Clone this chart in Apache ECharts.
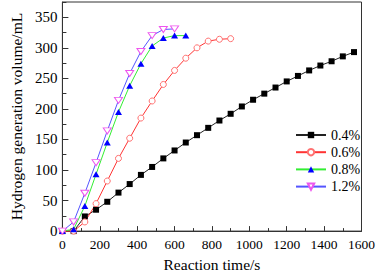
<!DOCTYPE html>
<html>
<head>
<meta charset="utf-8">
<script src="https://cdn.jsdelivr.net/npm/echarts@6/dist/echarts.min.js"></script>
<style>html,body{margin:0;padding:0;background:#fff}#c{width:378px;height:277px}</style>
</head>
<body>
<div id="c"></div>
<script>
// Data
const seriesNames = ['0.4%', '0.6%', '0.8%', '1.2%'];
const time04 = [0,60,120,180,240,300,360,420,480,540,600,660,720,780,840,900,960,1020,1080,1140,1200,1260,1320,1380,1440,1500,1560];
const vol04  = [0,0,24,35,48,63,77,92,105,119,132,145,157,169,181,192,204,215,225,235,245,254,263,271,278,286,293];
const time06 = [0,60,120,180,240,300,360,420,480,540,600,660,720,780,840,900];
const vol06  = [0,0,15,45,82,119,152,185,213,240,263,283,300,311,314,315];
const time08 = [0,60,120,180,240,300,360,420,480,540,600,660];
const vol08  = [0,3,41,93,145,195,238,274,303,316,320,320];
const time12 = [0,60,120,180,240,300,360,420,480,540,600];
const vol12  = [0,15,62,112,164,214,258,294,320,330,331];
const xTicks = [0,200,400,600,800,1000,1200,1400,1600];
const yTicks = [0,50,100,150,200,250,300,350];

const FONT = "'Liberation Serif','Times New Roman',serif";
function pairs(xs, ys){ return xs.map((x,i)=>[x, ys[i]]); }

const chart = echarts.init(document.getElementById('c'), null, {renderer:'svg'});
const axisColor = '#333';
chart.setOption({
  animation: false,
  backgroundColor: '#fff',
  grid: {left:46, right:15, top:2, bottom:38, show:true, borderColor:axisColor, borderWidth:1, backgroundColor:'transparent'},
  legend: {
    orient:'vertical', left:290, top:123, itemWidth:30, itemHeight:8, itemGap:3.2,
    textStyle:{fontFamily:FONT, fontSize:14, color:'#000'},
    data: seriesNames
  },
  xAxis: {
    type:'value', min:xTicks[0], max:xTicks[xTicks.length-1], interval:200,
    name:'Reaction time/s', nameLocation:'middle', nameGap:23,
    nameTextStyle:{fontFamily:FONT, fontSize:15.5, color:'#000'},
    axisLine:{show:true, lineStyle:{color:axisColor, width:1}},
    axisTick:{show:true, inside:true, length:5, lineStyle:{color:axisColor}},
    minorTick:{show:true, splitNumber:2, length:3, lineStyle:{color:axisColor}},
    axisLabel:{fontFamily:FONT, fontSize:13.5, color:'#000', margin:6, formatter: v => String(v)},
    splitLine:{show:false}
  },
  yAxis: [{
    type:'value', min:0, max:375, interval:50, position:'left',
    name:'Hydrogen generation volume/mL', nameLocation:'middle', nameGap:31,
    nameTextStyle:{fontFamily:FONT, fontSize:15.5, color:'#000'},
    axisLine:{show:true, lineStyle:{color:axisColor, width:1}},
    axisTick:{show:true, inside:true, length:6, lineStyle:{color:axisColor}},
    axisLabel:{fontFamily:FONT, fontSize:15, color:'#000', margin:5, showMaxLabel:false,
      formatter: v => yTicks.indexOf(v) >= 0 ? String(v) : ''},
    splitLine:{show:false}
  },{
    type:'value', min:0, max:375, interval:25, position:'left', offset:0,
    axisLine:{show:false},
    axisTick:{show:true, inside:true, length:4, lineStyle:{color:axisColor}},
    axisLabel:{show:false},
    splitLine:{show:false}
  }],
  series: [
    {name:seriesNames[0], type:'line', clip:false, data:pairs(time04, vol04),
     symbol:'rect', symbolSize:6,
     lineStyle:{color:'#222', width:1}, itemStyle:{color:'#000'}},
    {name:seriesNames[1], type:'line', clip:false, data:pairs(time06, vol06),
     symbol:'circle', symbolSize:6,
     lineStyle:{color:'#ff3333', width:1}, itemStyle:{color:'#fff', borderColor:'#ff7070', borderWidth:1}},
    {name:seriesNames[2], type:'line', clip:false, data:pairs(time08, vol08),
     symbol:'triangle', symbolSize:[7,6],
     lineStyle:{color:'#33ee33', width:1}, itemStyle:{color:'#0000ff'}},
    {name:seriesNames[3], type:'line', clip:false, data:pairs(time12, vol12),
     symbol:'triangle', symbolSize:[8,6], symbolRotate:180,
     lineStyle:{color:'#5555ff', width:1}, itemStyle:{color:'#fff', borderColor:'#ee55ee', borderWidth:1}}
  ]
});
</script>
</body>
</html>
